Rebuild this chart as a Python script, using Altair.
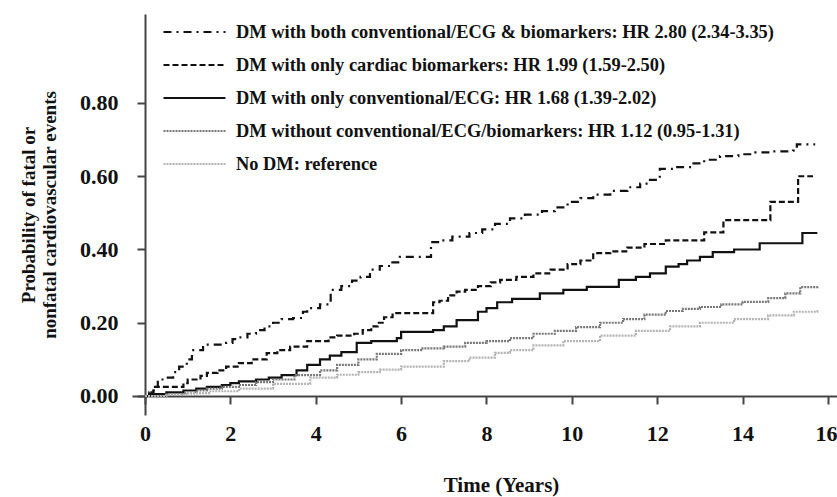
import altair as alt
import pandas as pd

# ---- series labels (legend order) ----
series_names = [
    "DM with both conventional/ECG & biomarkers: HR 2.80 (2.34-3.35)",
    "DM with only cardiac biomarkers: HR 1.99 (1.59-2.50)",
    "DM with only conventional/ECG: HR 1.68 (1.39-2.02)",
    "DM without conventional/ECG/biomarkers: HR 1.12 (0.95-1.31)",
    "No DM: reference",
]

# ---- step curves (time in years, cumulative probability) ----
t_both = [0, 0.1, 0.2, 0.3, 0.5, 0.66, 0.8, 0.98, 1.1, 1.36, 1.9, 2.05, 2.2, 2.4, 2.6, 2.8, 3.0, 3.2,
          3.47, 3.7, 3.8, 4.1, 4.35, 4.6, 4.85, 5.05, 5.27, 5.5, 5.75, 5.97, 6.7, 6.9, 7.2, 7.6, 7.9,
          8.2, 8.55, 8.9, 9.3, 9.6, 9.9, 10.2, 10.5, 10.9, 11.3, 11.6, 11.83, 12.06, 12.4, 12.8, 13.1,
          13.47, 13.9, 14.3, 14.7, 15.18, 15.27, 15.7]
v_both = [0, 0.01, 0.025, 0.045, 0.05, 0.065, 0.08, 0.1, 0.125, 0.14, 0.145, 0.155, 0.16, 0.17, 0.18,
          0.19, 0.2, 0.21, 0.213, 0.23, 0.24, 0.25, 0.29, 0.3, 0.315, 0.325, 0.345, 0.355, 0.365, 0.38,
          0.42, 0.425, 0.435, 0.445, 0.455, 0.47, 0.485, 0.495, 0.505, 0.515, 0.53, 0.54, 0.55, 0.56,
          0.57, 0.58, 0.59, 0.62, 0.625, 0.635, 0.645, 0.655, 0.66, 0.665, 0.668, 0.67, 0.687, 0.687]

t_bio = [0, 0.1, 0.2, 0.9, 1.0, 1.3, 1.45, 1.7, 1.9, 2.2, 2.5, 2.85, 3.1, 3.4, 3.8, 4.3, 4.5, 4.9, 5.1,
         5.3, 5.45, 5.6, 5.8, 6.75, 6.9, 7.1, 7.3, 7.5, 7.8, 8.1, 8.32, 8.7, 9.1, 9.5, 9.9, 10.2, 10.5,
         10.9, 11.3, 11.7, 12.2, 13.1, 13.55, 14.65, 15.3, 15.65]
v_bio = [0, 0.01, 0.025, 0.035, 0.045, 0.055, 0.063, 0.07, 0.08, 0.09, 0.1, 0.117, 0.125, 0.135, 0.15,
         0.16, 0.165, 0.17, 0.18, 0.19, 0.2, 0.215, 0.226, 0.256, 0.26, 0.275, 0.285, 0.29, 0.3, 0.31,
         0.317, 0.325, 0.335, 0.345, 0.36, 0.37, 0.39, 0.395, 0.405, 0.415, 0.425, 0.447, 0.48, 0.53,
         0.60, 0.60]

t_ecg = [0, 0.1, 0.5, 0.9, 1.2, 1.45, 1.8, 2.0, 2.2, 2.6, 2.9, 3.2, 3.55, 3.8, 4.1, 4.33, 4.6, 4.96,
         5.3, 5.9, 6.0, 6.75, 7.0, 7.3, 7.8, 8.0, 8.25, 8.6, 9.25, 9.8, 10.35, 11.1, 11.5, 11.83, 12.2,
         12.5, 12.7, 13.0, 13.3, 13.8, 14.4, 15.4, 15.75]
v_ecg = [0, 0.005, 0.01, 0.015, 0.02, 0.025, 0.03, 0.035, 0.04, 0.045, 0.05, 0.057, 0.07, 0.085, 0.1,
         0.11, 0.12, 0.145, 0.15, 0.158, 0.175, 0.18, 0.19, 0.207, 0.23, 0.24, 0.256, 0.265, 0.28, 0.29,
         0.298, 0.317, 0.325, 0.335, 0.353, 0.36, 0.37, 0.38, 0.393, 0.4, 0.417, 0.445, 0.445]

t_none = [0, 0.5, 0.9, 1.2, 1.45, 1.8, 2.2, 2.6, 3.0, 3.5, 4.1, 4.5, 5.0, 5.43, 6.0, 6.5, 7.0, 7.5, 8.0,
          8.55, 9.1, 9.6, 10.1, 10.66, 11.2, 11.7, 12.2, 12.6, 13.0, 13.5, 14.0, 14.6, 15.0, 15.35, 15.75]
v_none = [0, 0.003, 0.008, 0.015, 0.02, 0.025, 0.03, 0.038, 0.045, 0.057, 0.07, 0.085, 0.1, 0.115,
          0.125, 0.13, 0.135, 0.145, 0.15, 0.158, 0.17, 0.178, 0.188, 0.2, 0.21, 0.222, 0.232, 0.238,
          0.243, 0.25, 0.257, 0.267, 0.28, 0.297, 0.30]

t_nodm = [0, 0.5, 1.0, 1.5, 2.2, 3.0, 3.87, 4.5, 5.0, 5.5, 6.0, 7.0, 7.6, 8.2, 8.55, 9.1, 9.8, 10.66,
          11.5, 12.3, 13.0, 13.8, 14.6, 15.2, 15.75]
v_nodm = [0, 0.003, 0.008, 0.013, 0.02, 0.033, 0.05, 0.058, 0.065, 0.072, 0.08, 0.095, 0.105, 0.118,
          0.125, 0.138, 0.15, 0.165, 0.178, 0.19, 0.2, 0.21, 0.22, 0.23, 0.235]

x_ticks = [0, 2, 4, 6, 8, 10, 12, 14, 16]
y_ticks = [0.0, 0.2, 0.4, 0.6, 0.8]

# ---- build long table ----
rows = []
for name, ts, vs in zip(series_names,
                        [t_both, t_bio, t_ecg, t_none, t_nodm],
                        [v_both, v_bio, v_ecg, v_none, v_nodm]):
    for t, v in zip(ts, vs):
        rows.append({"series": name, "time": t, "prob": v})
df = pd.DataFrame(rows)

FONT = "Liberation Serif"

legend_kw = dict(title=None, orient="none", legendX=30, legendY=2.5,
                 symbolType="stroke", symbolSize=3844, symbolStrokeWidth=2.5,
                 clipHeight=31, rowPadding=2, padding=0, labelOffset=9,
                 labelFont=FONT, labelFontWeight="bold", labelFontSize=18.4,
                 labelColor="#111111", labelLimit=0)

axis_common = dict(grid=False, domainColor="#444444", domainWidth=2,
                   tickColor="#444444", tickWidth=2, tickSize=8, labelPadding=19,
                   labelFont=FONT, labelFontWeight="bold", labelFontSize=22,
                   labelColor="#111111", titleFont=FONT, titleFontWeight="bold",
                   titleColor="#111111")

lines = alt.Chart(df).mark_line(interpolate="step-after").encode(
    x=alt.X("time:Q",
            scale=alt.Scale(domain=[-0.3045, 16.211], nice=False, zero=False),
            axis=alt.Axis(values=x_ticks, format="d", title="Time (Years)", offset=-19,
                          titleX=369, titleY=95, titleBaseline="alphabetic", titleAlign="center",
                          titleFontSize=21, labelFlush=10, labelFlushOffset=9,
                          **axis_common)),
    y=alt.Y("prob:Q",
            scale=alt.Scale(domain=[-0.0519, 1.043], nice=False, zero=False),
            axis=alt.Axis(values=y_ticks, format=".2f",
                          title=["Probability of fatal or", "nonfatal cardiovascular events"],
                          offset=-13, titleAngle=270, titleX=-111, titleY=200.5,
                          titleBaseline="alphabetic", titleAlign="center", titleLineHeight=21,
                          titleFontSize=19, **axis_common)),
    color=alt.Color("series:N",
                    scale=alt.Scale(domain=series_names,
                                    range=["#111111", "#111111", "#111111", "#777777", "#b3b3b3"]),
                    legend=alt.Legend(**legend_kw)),
    strokeDash=alt.StrokeDash("series:N",
                              scale=alt.Scale(domain=series_names,
                                              range=[[8, 5, 2, 5], [6, 3], [1, 0], [2, 1], [2, 1]]),
                              legend=alt.Legend(**legend_kw)),
    strokeWidth=alt.StrokeWidth("series:N",
                                scale=alt.Scale(domain=series_names, range=[2.2, 2.2, 2.6, 2.8, 2.4]),
                                legend=None),
)

chart = lines.properties(
    width=705, height=401,
    background="white",
    autosize=alt.AutoSizeParams(type="none"),
    padding={"left": 132, "top": 14, "right": 0, "bottom": 82},
).configure_view(stroke=None).configure_axis(grid=False)

chart.save("out.html", embed_options={"renderer": "svg", "actions": False})
